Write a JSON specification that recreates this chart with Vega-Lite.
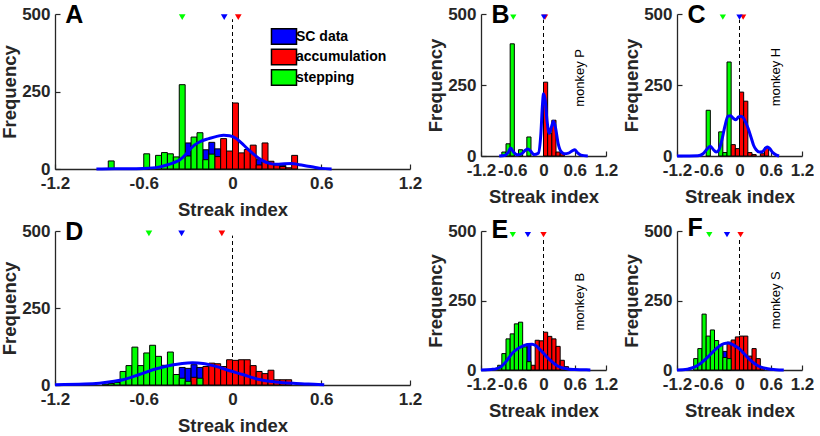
{
  "$schema": "https://vega.github.io/schema/vega-lite/v6.json",
  "padding": {"left": 0, "top": 2, "right": 0, "bottom": 0},
  "background": "white",
  "config": {
    "view": {"stroke": null},
    "font": "Liberation Sans",
    "axis": {
      "labelFont": "Liberation Sans", "labelFontSize": 17, "labelFontWeight": "bold", "labelColor": "#262626",
      "titleFont": "Liberation Sans", "titleFontSize": 18.5, "titleFontWeight": "bold", "titleColor": "#262626",
      "domainColor": "#262626", "domainWidth": 1.3, "tickColor": "#262626", "tickWidth": 1.2, "tickSize": -5,
      "grid": false, "labelFlush": false, "labelOverlap": false, "labelBound": false
    },
    "axisX": {"labelPadding": 11, "titlePadding": 9},
    "axisY": {"labelPadding": 10, "titlePadding": 2}
  },
  "datasets": {
    "bA": [
      {"lo": -0.32, "hi": -0.28, "n": 84, "s": "SC data"},
      {"lo": -0.20, "hi": -0.16, "n": 62, "s": "SC data"},
      {"lo": -0.16, "hi": -0.12, "n": 86, "s": "SC data"},
      {"lo": -0.12, "hi": -0.08, "n": 65, "s": "SC data"},
      {"lo": 0.16, "hi": 0.20, "n": 30, "s": "SC data"},
      {"lo": 0.32, "hi": 0.36, "n": 12, "s": "SC data"},
      {"lo": -0.12, "hi": -0.08, "n": 40, "s": "accumulation"},
      {"lo": -0.08, "hi": -0.04, "n": 98, "s": "accumulation"},
      {"lo": -0.04, "hi": 0.0, "n": 58, "s": "accumulation"},
      {"lo": 0.0, "hi": 0.04, "n": 213, "s": "accumulation"},
      {"lo": 0.04, "hi": 0.08, "n": 52, "s": "accumulation"},
      {"lo": 0.08, "hi": 0.12, "n": 63, "s": "accumulation"},
      {"lo": 0.12, "hi": 0.16, "n": 77, "s": "accumulation"},
      {"lo": 0.16, "hi": 0.20, "n": 13, "s": "accumulation"},
      {"lo": 0.20, "hi": 0.24, "n": 84, "s": "accumulation"},
      {"lo": 0.24, "hi": 0.28, "n": 25, "s": "accumulation"},
      {"lo": 0.28, "hi": 0.32, "n": 13, "s": "accumulation"},
      {"lo": 0.32, "hi": 0.36, "n": 8, "s": "accumulation"},
      {"lo": 0.36, "hi": 0.40, "n": 4, "s": "accumulation"},
      {"lo": 0.40, "hi": 0.44, "n": 44, "s": "accumulation"},
      {"lo": -0.84, "hi": -0.80, "n": 26, "s": "stepping"},
      {"lo": -0.60, "hi": -0.56, "n": 49, "s": "stepping"},
      {"lo": -0.52, "hi": -0.48, "n": 44, "s": "stepping"},
      {"lo": -0.48, "hi": -0.44, "n": 53, "s": "stepping"},
      {"lo": -0.44, "hi": -0.40, "n": 49, "s": "stepping"},
      {"lo": -0.40, "hi": -0.36, "n": 39, "s": "stepping"},
      {"lo": -0.36, "hi": -0.32, "n": 272, "s": "stepping"},
      {"lo": -0.32, "hi": -0.28, "n": 42, "s": "stepping"},
      {"lo": -0.28, "hi": -0.24, "n": 103, "s": "stepping"},
      {"lo": -0.24, "hi": -0.20, "n": 117, "s": "stepping"},
      {"lo": -0.20, "hi": -0.16, "n": 30, "s": "stepping"},
      {"lo": -0.16, "hi": -0.12, "n": 48, "s": "stepping"}
    ],
    "lA": [
      {"x": -0.92, "y": 0}, {"x": -0.8, "y": 1}, {"x": -0.7, "y": 1}, {"x": -0.6, "y": 2}, {"x": -0.5, "y": 6},
      {"x": -0.45, "y": 12}, {"x": -0.4, "y": 20}, {"x": -0.36, "y": 28}, {"x": -0.32, "y": 45}, {"x": -0.29, "y": 62},
      {"x": -0.26, "y": 76}, {"x": -0.22, "y": 88}, {"x": -0.16, "y": 98}, {"x": -0.1, "y": 106}, {"x": -0.06, "y": 109},
      {"x": -0.02, "y": 107}, {"x": 0.02, "y": 100}, {"x": 0.06, "y": 84}, {"x": 0.1, "y": 66}, {"x": 0.14, "y": 49},
      {"x": 0.2, "y": 28}, {"x": 0.25, "y": 18}, {"x": 0.3, "y": 15}, {"x": 0.35, "y": 17}, {"x": 0.4, "y": 18},
      {"x": 0.45, "y": 14}, {"x": 0.5, "y": 10}, {"x": 0.56, "y": 5}, {"x": 0.6, "y": 2}, {"x": 0.67, "y": 0}
    ],
    "tA": [
      {"x": -0.34, "s": "stepping"}, {"x": 0.039, "s": "accumulation"}, {"x": -0.056, "s": "SC data"}
    ],
    "bB": [
      {"lo": -0.80, "hi": -0.72, "n": 14, "s": "stepping"},
      {"lo": -0.72, "hi": -0.64, "n": 43, "s": "stepping"},
      {"lo": -0.64, "hi": -0.56, "n": 395, "s": "stepping"},
      {"lo": -0.48, "hi": -0.40, "n": 22, "s": "stepping"},
      {"lo": -0.32, "hi": -0.24, "n": 67, "s": "stepping"},
      {"lo": 0.0, "hi": 0.08, "n": 260, "s": "accumulation"},
      {"lo": 0.08, "hi": 0.16, "n": 79, "s": "accumulation"},
      {"lo": 0.16, "hi": 0.24, "n": 126, "s": "accumulation"},
      {"lo": 0.24, "hi": 0.32, "n": 14, "s": "accumulation"},
      {"lo": 0.32, "hi": 0.40, "n": 10, "s": "accumulation"}
    ],
    "lB": [
      {"x": -0.85, "y": 0}, {"x": -0.75, "y": 2}, {"x": -0.68, "y": 12}, {"x": -0.63, "y": 28}, {"x": -0.58, "y": 15},
      {"x": -0.5, "y": 4}, {"x": -0.42, "y": 8}, {"x": -0.35, "y": 20}, {"x": -0.3, "y": 25}, {"x": -0.25, "y": 18},
      {"x": -0.18, "y": 5}, {"x": -0.1, "y": 10}, {"x": -0.05, "y": 80}, {"x": -0.02, "y": 180}, {"x": 0.0, "y": 219},
      {"x": 0.03, "y": 200}, {"x": 0.07, "y": 120}, {"x": 0.11, "y": 80}, {"x": 0.15, "y": 100}, {"x": 0.19, "y": 122},
      {"x": 0.23, "y": 100}, {"x": 0.28, "y": 45}, {"x": 0.34, "y": 15}, {"x": 0.4, "y": 8}, {"x": 0.48, "y": 10},
      {"x": 0.55, "y": 18}, {"x": 0.6, "y": 22}, {"x": 0.65, "y": 12}, {"x": 0.72, "y": 3}, {"x": 0.85, "y": 0}
    ],
    "tB": [
      {"x": -0.58, "s": "stepping"}, {"x": 0.03, "s": "accumulation"}, {"x": 0.01, "s": "SC data"}
    ],
    "bC": [
      {"lo": -0.64, "hi": -0.56, "n": 161, "s": "stepping"},
      {"lo": -0.40, "hi": -0.32, "n": 85, "s": "stepping"},
      {"lo": -0.32, "hi": -0.24, "n": 12, "s": "stepping"},
      {"lo": -0.24, "hi": -0.16, "n": 331, "s": "stepping"},
      {"lo": -0.16, "hi": -0.08, "n": 40, "s": "accumulation"},
      {"lo": -0.08, "hi": 0.0, "n": 26, "s": "accumulation"},
      {"lo": 0.0, "hi": 0.08, "n": 225, "s": "accumulation"},
      {"lo": 0.08, "hi": 0.16, "n": 193, "s": "accumulation"},
      {"lo": 0.16, "hi": 0.24, "n": 12, "s": "accumulation"},
      {"lo": 0.24, "hi": 0.32, "n": 5, "s": "accumulation"},
      {"lo": 0.40, "hi": 0.48, "n": 8, "s": "accumulation"},
      {"lo": 0.48, "hi": 0.56, "n": 30, "s": "accumulation"}
    ],
    "lC": [
      {"x": -1.2, "y": 0}, {"x": -0.8, "y": 1}, {"x": -0.7, "y": 8}, {"x": -0.62, "y": 25}, {"x": -0.56, "y": 34},
      {"x": -0.5, "y": 22}, {"x": -0.45, "y": 14}, {"x": -0.4, "y": 20}, {"x": -0.34, "y": 55}, {"x": -0.28, "y": 105},
      {"x": -0.22, "y": 140}, {"x": -0.17, "y": 142}, {"x": -0.12, "y": 133}, {"x": -0.07, "y": 128}, {"x": -0.02, "y": 137},
      {"x": 0.03, "y": 140}, {"x": 0.08, "y": 133}, {"x": 0.12, "y": 118}, {"x": 0.17, "y": 95}, {"x": 0.22, "y": 67},
      {"x": 0.27, "y": 38}, {"x": 0.32, "y": 22}, {"x": 0.38, "y": 14}, {"x": 0.44, "y": 15}, {"x": 0.5, "y": 28},
      {"x": 0.54, "y": 32}, {"x": 0.58, "y": 26}, {"x": 0.64, "y": 12}, {"x": 0.7, "y": 4}, {"x": 0.76, "y": 0}
    ],
    "tC": [
      {"x": -0.32, "s": "stepping"}, {"x": 0.07, "s": "accumulation"}, {"x": 0.0, "s": "SC data"}
    ],
    "bD": [
      {"lo": -0.36, "hi": -0.32, "n": 57, "s": "SC data"},
      {"lo": -0.32, "hi": -0.28, "n": 54, "s": "SC data"},
      {"lo": -0.28, "hi": -0.24, "n": 66, "s": "SC data"},
      {"lo": -0.24, "hi": -0.20, "n": 57, "s": "SC data"},
      {"lo": -0.28, "hi": -0.24, "n": 25, "s": "accumulation"},
      {"lo": -0.20, "hi": -0.16, "n": 60, "s": "accumulation"},
      {"lo": -0.16, "hi": -0.12, "n": 71, "s": "accumulation"},
      {"lo": -0.12, "hi": -0.08, "n": 69, "s": "accumulation"},
      {"lo": -0.08, "hi": -0.04, "n": 60, "s": "accumulation"},
      {"lo": -0.04, "hi": 0.0, "n": 82, "s": "accumulation"},
      {"lo": 0.0, "hi": 0.04, "n": 80, "s": "accumulation"},
      {"lo": 0.04, "hi": 0.08, "n": 82, "s": "accumulation"},
      {"lo": 0.08, "hi": 0.12, "n": 82, "s": "accumulation"},
      {"lo": 0.12, "hi": 0.16, "n": 63, "s": "accumulation"},
      {"lo": 0.16, "hi": 0.20, "n": 44, "s": "accumulation"},
      {"lo": 0.20, "hi": 0.24, "n": 37, "s": "accumulation"},
      {"lo": 0.24, "hi": 0.28, "n": 48, "s": "accumulation"},
      {"lo": 0.28, "hi": 0.32, "n": 17, "s": "accumulation"},
      {"lo": 0.32, "hi": 0.36, "n": 17, "s": "accumulation"},
      {"lo": 0.36, "hi": 0.40, "n": 17, "s": "accumulation"},
      {"lo": -0.88, "hi": -0.84, "n": 3, "s": "stepping"},
      {"lo": -0.84, "hi": -0.80, "n": 5, "s": "stepping"},
      {"lo": -0.80, "hi": -0.76, "n": 8, "s": "stepping"},
      {"lo": -0.76, "hi": -0.72, "n": 44, "s": "stepping"},
      {"lo": -0.72, "hi": -0.68, "n": 63, "s": "stepping"},
      {"lo": -0.68, "hi": -0.64, "n": 123, "s": "stepping"},
      {"lo": -0.64, "hi": -0.60, "n": 63, "s": "stepping"},
      {"lo": -0.60, "hi": -0.56, "n": 104, "s": "stepping"},
      {"lo": -0.56, "hi": -0.52, "n": 129, "s": "stepping"},
      {"lo": -0.52, "hi": -0.48, "n": 93, "s": "stepping"},
      {"lo": -0.48, "hi": -0.44, "n": 64, "s": "stepping"},
      {"lo": -0.44, "hi": -0.40, "n": 107, "s": "stepping"},
      {"lo": -0.40, "hi": -0.36, "n": 34, "s": "stepping"},
      {"lo": -0.36, "hi": -0.32, "n": 22, "s": "stepping"},
      {"lo": -0.32, "hi": -0.28, "n": 12, "s": "stepping"},
      {"lo": -0.24, "hi": -0.20, "n": 22, "s": "stepping"}
    ],
    "lD": [
      {"x": -1.2, "y": 1}, {"x": -1.0, "y": 3}, {"x": -0.9, "y": 6}, {"x": -0.8, "y": 12}, {"x": -0.74, "y": 17},
      {"x": -0.63, "y": 34}, {"x": -0.52, "y": 52}, {"x": -0.41, "y": 65}, {"x": -0.34, "y": 70}, {"x": -0.27, "y": 72},
      {"x": -0.2, "y": 70}, {"x": -0.16, "y": 66}, {"x": -0.1, "y": 59}, {"x": -0.05, "y": 51}, {"x": 0.07, "y": 34},
      {"x": 0.18, "y": 18}, {"x": 0.29, "y": 10}, {"x": 0.43, "y": 5}, {"x": 0.58, "y": 2}, {"x": 0.62, "y": 1}
    ],
    "tD": [
      {"x": -0.565, "s": "stepping"}, {"x": -0.072, "s": "accumulation"}, {"x": -0.344, "s": "SC data"}
    ],
    "bE": [
      {"lo": -0.32, "hi": -0.24, "n": 95, "s": "SC data"},
      {"lo": -0.24, "hi": -0.16, "n": 17, "s": "accumulation"},
      {"lo": -0.16, "hi": -0.08, "n": 107, "s": "accumulation"},
      {"lo": -0.08, "hi": 0.0, "n": 105, "s": "accumulation"},
      {"lo": 0.0, "hi": 0.08, "n": 136, "s": "accumulation"},
      {"lo": 0.08, "hi": 0.16, "n": 121, "s": "accumulation"},
      {"lo": 0.16, "hi": 0.24, "n": 112, "s": "accumulation"},
      {"lo": 0.24, "hi": 0.32, "n": 85, "s": "accumulation"},
      {"lo": 0.32, "hi": 0.40, "n": 35, "s": "accumulation"},
      {"lo": 0.40, "hi": 0.48, "n": 12, "s": "accumulation"},
      {"lo": 0.48, "hi": 0.56, "n": 5, "s": "accumulation"},
      {"lo": -0.88, "hi": -0.80, "n": 17, "s": "stepping"},
      {"lo": -0.80, "hi": -0.72, "n": 59, "s": "stepping"},
      {"lo": -0.72, "hi": -0.64, "n": 112, "s": "stepping"},
      {"lo": -0.64, "hi": -0.56, "n": 130, "s": "stepping"},
      {"lo": -0.56, "hi": -0.48, "n": 166, "s": "stepping"},
      {"lo": -0.48, "hi": -0.40, "n": 172, "s": "stepping"},
      {"lo": -0.40, "hi": -0.32, "n": 83, "s": "stepping"},
      {"lo": -0.32, "hi": -0.24, "n": 30, "s": "stepping"}
    ],
    "lE": [
      {"x": -1.2, "y": 0}, {"x": -1.0, "y": 2}, {"x": -0.9, "y": 5}, {"x": -0.8, "y": 14}, {"x": -0.7, "y": 35},
      {"x": -0.6, "y": 60}, {"x": -0.5, "y": 76}, {"x": -0.4, "y": 86}, {"x": -0.3, "y": 92}, {"x": -0.22, "y": 93},
      {"x": -0.15, "y": 88}, {"x": -0.08, "y": 76}, {"x": 0.0, "y": 60}, {"x": 0.08, "y": 44}, {"x": 0.16, "y": 30},
      {"x": 0.24, "y": 18}, {"x": 0.32, "y": 10}, {"x": 0.4, "y": 6}, {"x": 0.5, "y": 3}, {"x": 0.6, "y": 2},
      {"x": 0.75, "y": 1}, {"x": 0.9, "y": 0}
    ],
    "tE": [
      {"x": -0.59, "s": "stepping"}, {"x": 0.0, "s": "accumulation"}, {"x": -0.30, "s": "SC data"}
    ],
    "bF": [
      {"lo": -0.32, "hi": -0.24, "n": 67, "s": "SC data"},
      {"lo": -0.24, "hi": -0.16, "n": 100, "s": "accumulation"},
      {"lo": -0.16, "hi": -0.08, "n": 108, "s": "accumulation"},
      {"lo": -0.08, "hi": 0.0, "n": 119, "s": "accumulation"},
      {"lo": 0.0, "hi": 0.08, "n": 122, "s": "accumulation"},
      {"lo": 0.08, "hi": 0.16, "n": 122, "s": "accumulation"},
      {"lo": 0.16, "hi": 0.24, "n": 50, "s": "accumulation"},
      {"lo": 0.24, "hi": 0.32, "n": 77, "s": "accumulation"},
      {"lo": 0.32, "hi": 0.40, "n": 41, "s": "accumulation"},
      {"lo": 0.40, "hi": 0.48, "n": 10, "s": "accumulation"},
      {"lo": -0.88, "hi": -0.80, "n": 41, "s": "stepping"},
      {"lo": -0.80, "hi": -0.72, "n": 77, "s": "stepping"},
      {"lo": -0.72, "hi": -0.64, "n": 201, "s": "stepping"},
      {"lo": -0.64, "hi": -0.56, "n": 122, "s": "stepping"},
      {"lo": -0.56, "hi": -0.48, "n": 144, "s": "stepping"},
      {"lo": -0.48, "hi": -0.40, "n": 106, "s": "stepping"},
      {"lo": -0.40, "hi": -0.32, "n": 89, "s": "stepping"},
      {"lo": -0.32, "hi": -0.24, "n": 45, "s": "stepping"},
      {"lo": -0.24, "hi": -0.16, "n": 41, "s": "stepping"}
    ],
    "lF": [
      {"x": -1.2, "y": 0}, {"x": -1.0, "y": 3}, {"x": -0.9, "y": 8}, {"x": -0.8, "y": 17}, {"x": -0.7, "y": 31},
      {"x": -0.6, "y": 48}, {"x": -0.5, "y": 67}, {"x": -0.4, "y": 84}, {"x": -0.3, "y": 95}, {"x": -0.22, "y": 97},
      {"x": -0.15, "y": 93}, {"x": -0.08, "y": 86}, {"x": 0.0, "y": 76}, {"x": 0.08, "y": 60}, {"x": 0.16, "y": 44},
      {"x": 0.24, "y": 30}, {"x": 0.32, "y": 19}, {"x": 0.4, "y": 11}, {"x": 0.5, "y": 6}, {"x": 0.6, "y": 3},
      {"x": 0.7, "y": 1}, {"x": 0.85, "y": 0}
    ],
    "tF": [
      {"x": -0.58, "s": "stepping"}, {"x": 0.02, "s": "accumulation"}, {"x": -0.24, "s": "SC data"}
    ]
  },
  "bounds": "flush",
  "spacing": 217,
  "resolve": {"scale": {"color": "independent"}, "legend": {"color": "independent"}},
  "vconcat": [
    {
      "bounds": "flush",
      "spacing": 71,
      "resolve": {"scale": {"color": "independent"}, "legend": {"color": "independent"}},
      "hconcat": [
        {
          "width": 355, "height": 155,
          "layer": [
            {"data": {"values": [{}]}, "mark": {"type": "rule", "strokeDash": [4, 3], "color": "black", "strokeWidth": 1},
             "encoding": {
               "x": {"datum": 0, "type": "quantitative", "scale": {"domain": [-1.2, 1.2], "nice": false}, "axis": {"values": [-1.2, -0.6, 0, 0.6, 1.2], "tickCount": 5, "title": "Streak index", "labelOverlap": false, "labelExpr": "replace(format(datum.value,'~g'),'\u2212','-')"}},
               "y": {"datum": 0, "type": "quantitative", "scale": {"domain": [0, 500], "nice": false}, "axis": {"values": [0, 250, 500], "tickCount": 3, "title": "Frequency", "labelOverlap": false}},
               "y2": {"datum": 483}}},
            {"data": {"name": "bA"}, "mark": {"type": "bar", "stroke": "black", "strokeWidth": 1, "opacity": 1},
             "encoding": {
               "x": {"field": "lo", "type": "quantitative"}, "x2": {"field": "hi"},
               "y": {"field": "n", "type": "quantitative", "stack": null}, "y2": {"datum": 0},
               "color": {"field": "s", "type": "nominal", "scale": {"domain": ["SC data", "accumulation", "stepping"], "range": ["#0000FF", "#FF0000", "#00FF00"]},
                 "legend": {"orient": "none", "legendX": 221, "legendY": 14.5, "title": null, "symbolType": "M-1.77,-1.1H1.77V1.1H-1.77Z", "symbolSize": 200, "symbolStrokeColor": "black", "symbolStrokeWidth": 1.5, "symbolOpacity": 1, "labelFontSize": 14, "labelFontWeight": "bold", "labelColor": "black", "labelFont": "Liberation Sans", "labelOffset": 4, "rowPadding": -1.5, "padding": 0}}}},
            {"data": {"name": "lA"}, "mark": {"type": "line", "color": "#0000FF", "strokeWidth": 3, "interpolate": "monotone"},
             "encoding": {"x": {"field": "x", "type": "quantitative"}, "y": {"field": "y", "type": "quantitative"}}},
            {"data": {"name": "tA"}, "mark": {"type": "point", "shape": "triangle-down", "filled": true, "size": 45, "opacity": 1},
             "encoding": {"x": {"field": "x", "type": "quantitative"}, "y": {"datum": 490, "type": "quantitative"},
               "color": {"field": "s", "type": "nominal", "scale": {"domain": ["SC data", "accumulation", "stepping"], "range": ["#0000FF", "#FF0000", "#00FF00"]}, "legend": null}}},
            {"data": {"values": [{}]}, "mark": {"type": "text", "text": "A", "fontSize": 25, "fontWeight": "bold", "font": "Liberation Sans", "align": "left", "baseline": "alphabetic", "color": "black"},
             "encoding": {"x": {"datum": -1.13, "type": "quantitative"}, "y": {"datum": 472, "type": "quantitative"}}}
          ]
        },
        {
          "width": 125, "height": 142,
          "layer": [
            {"data": {"values": [{}]}, "mark": {"type": "rule", "strokeDash": [4, 3], "color": "black", "strokeWidth": 1},
             "encoding": {
               "x": {"datum": 0, "type": "quantitative", "scale": {"domain": [-1.2, 1.2], "nice": false}, "axis": {"values": [-1.2, -0.6, 0, 0.6, 1.2], "tickCount": 5, "title": "Streak index", "labelOverlap": false, "labelExpr": "replace(format(datum.value,'~g'),'\u2212','-')"}},
               "y": {"datum": 0, "type": "quantitative", "scale": {"domain": [0, 500], "nice": false}, "axis": {"values": [0, 250, 500], "tickCount": 3, "title": "Frequency", "labelOverlap": false}},
               "y2": {"datum": 480}}},
            {"data": {"name": "bB"}, "mark": {"type": "bar", "stroke": "black", "strokeWidth": 1, "opacity": 1},
             "encoding": {
               "x": {"field": "lo", "type": "quantitative"}, "x2": {"field": "hi"},
               "y": {"field": "n", "type": "quantitative", "stack": null}, "y2": {"datum": 0},
               "color": {"field": "s", "type": "nominal", "scale": {"domain": ["SC data", "accumulation", "stepping"], "range": ["#0000FF", "#FF0000", "#00FF00"]}, "legend": null}}},
            {"data": {"name": "lB"}, "mark": {"type": "line", "color": "#0000FF", "strokeWidth": 3, "interpolate": "monotone"},
             "encoding": {"x": {"field": "x", "type": "quantitative"}, "y": {"field": "y", "type": "quantitative"}}},
            {"data": {"name": "tB"}, "mark": {"type": "point", "shape": "triangle-down", "filled": true, "size": 40, "opacity": 1},
             "encoding": {"x": {"field": "x", "type": "quantitative"}, "y": {"datum": 489, "type": "quantitative"},
               "color": {"field": "s", "type": "nominal", "scale": {"domain": ["SC data", "accumulation", "stepping"], "range": ["#0000FF", "#FF0000", "#00FF00"]}, "legend": null}}},
            {"data": {"values": [{}]}, "mark": {"type": "text", "text": "B", "fontSize": 25, "fontWeight": "bold", "font": "Liberation Sans", "align": "left", "baseline": "alphabetic", "color": "black"},
             "encoding": {"x": {"datum": -1.0, "type": "quantitative"}, "y": {"datum": 470, "type": "quantitative"}}},
            {"data": {"values": [{}]}, "mark": {"type": "text", "text": "monkey P", "fontSize": 13, "font": "Liberation Sans", "angle": 270, "align": "center", "baseline": "middle", "color": "black"},
             "encoding": {"x": {"datum": 0.71, "type": "quantitative"}, "y": {"datum": 275, "type": "quantitative"}}}
          ]
        },
        {
          "width": 125, "height": 142,
          "layer": [
            {"data": {"values": [{}]}, "mark": {"type": "rule", "strokeDash": [4, 3], "color": "black", "strokeWidth": 1},
             "encoding": {
               "x": {"datum": 0, "type": "quantitative", "scale": {"domain": [-1.2, 1.2], "nice": false}, "axis": {"values": [-1.2, -0.6, 0, 0.6, 1.2], "tickCount": 5, "title": "Streak index", "labelOverlap": false, "labelExpr": "replace(format(datum.value,'~g'),'\u2212','-')"}},
               "y": {"datum": 0, "type": "quantitative", "scale": {"domain": [0, 500], "nice": false}, "axis": {"values": [0, 250, 500], "tickCount": 3, "title": "Frequency", "labelOverlap": false}},
               "y2": {"datum": 480}}},
            {"data": {"name": "bC"}, "mark": {"type": "bar", "stroke": "black", "strokeWidth": 1, "opacity": 1},
             "encoding": {
               "x": {"field": "lo", "type": "quantitative"}, "x2": {"field": "hi"},
               "y": {"field": "n", "type": "quantitative", "stack": null}, "y2": {"datum": 0},
               "color": {"field": "s", "type": "nominal", "scale": {"domain": ["SC data", "accumulation", "stepping"], "range": ["#0000FF", "#FF0000", "#00FF00"]}, "legend": null}}},
            {"data": {"name": "lC"}, "mark": {"type": "line", "color": "#0000FF", "strokeWidth": 3, "interpolate": "monotone"},
             "encoding": {"x": {"field": "x", "type": "quantitative"}, "y": {"field": "y", "type": "quantitative"}}},
            {"data": {"name": "tC"}, "mark": {"type": "point", "shape": "triangle-down", "filled": true, "size": 40, "opacity": 1},
             "encoding": {"x": {"field": "x", "type": "quantitative"}, "y": {"datum": 489, "type": "quantitative"},
               "color": {"field": "s", "type": "nominal", "scale": {"domain": ["SC data", "accumulation", "stepping"], "range": ["#0000FF", "#FF0000", "#00FF00"]}, "legend": null}}},
            {"data": {"values": [{}]}, "mark": {"type": "text", "text": "C", "fontSize": 25, "fontWeight": "bold", "font": "Liberation Sans", "align": "left", "baseline": "alphabetic", "color": "black"},
             "encoding": {"x": {"datum": -1.0, "type": "quantitative"}, "y": {"datum": 470, "type": "quantitative"}}},
            {"data": {"values": [{}]}, "mark": {"type": "text", "text": "monkey H", "fontSize": 13, "font": "Liberation Sans", "angle": 270, "align": "center", "baseline": "middle", "color": "black"},
             "encoding": {"x": {"datum": 0.70, "type": "quantitative"}, "y": {"datum": 278, "type": "quantitative"}}}
          ]
        }
      ]
    },
    {
      "bounds": "flush",
      "spacing": 71,
      "resolve": {"scale": {"color": "independent"}, "legend": {"color": "independent"}},
      "hconcat": [
        {
          "width": 355, "height": 154,
          "layer": [
            {"data": {"values": [{}]}, "mark": {"type": "rule", "strokeDash": [4, 3], "color": "black", "strokeWidth": 1},
             "encoding": {
               "x": {"datum": 0, "type": "quantitative", "scale": {"domain": [-1.2, 1.2], "nice": false}, "axis": {"values": [-1.2, -0.6, 0, 0.6, 1.2], "tickCount": 5, "title": "Streak index", "labelOverlap": false, "labelExpr": "replace(format(datum.value,'~g'),'\u2212','-')"}},
               "y": {"datum": 0, "type": "quantitative", "scale": {"domain": [0, 500], "nice": false}, "axis": {"values": [0, 250, 500], "tickCount": 3, "title": "Frequency", "labelOverlap": false}},
               "y2": {"datum": 485}}},
            {"data": {"name": "bD"}, "mark": {"type": "bar", "stroke": "black", "strokeWidth": 1, "opacity": 1},
             "encoding": {
               "x": {"field": "lo", "type": "quantitative"}, "x2": {"field": "hi"},
               "y": {"field": "n", "type": "quantitative", "stack": null}, "y2": {"datum": 0},
               "color": {"field": "s", "type": "nominal", "scale": {"domain": ["SC data", "accumulation", "stepping"], "range": ["#0000FF", "#FF0000", "#00FF00"]}, "legend": null}}},
            {"data": {"name": "lD"}, "mark": {"type": "line", "color": "#0000FF", "strokeWidth": 3, "interpolate": "monotone"},
             "encoding": {"x": {"field": "x", "type": "quantitative"}, "y": {"field": "y", "type": "quantitative"}}},
            {"data": {"name": "tD"}, "mark": {"type": "point", "shape": "triangle-down", "filled": true, "size": 45, "opacity": 1},
             "encoding": {"x": {"field": "x", "type": "quantitative"}, "y": {"datum": 492, "type": "quantitative"},
               "color": {"field": "s", "type": "nominal", "scale": {"domain": ["SC data", "accumulation", "stepping"], "range": ["#0000FF", "#FF0000", "#00FF00"]}, "legend": null}}},
            {"data": {"values": [{}]}, "mark": {"type": "text", "text": "D", "fontSize": 25, "fontWeight": "bold", "font": "Liberation Sans", "align": "left", "baseline": "alphabetic", "color": "black"},
             "encoding": {"x": {"datum": -1.13, "type": "quantitative"}, "y": {"datum": 472, "type": "quantitative"}}}
          ]
        },
        {
          "width": 125, "height": 139,
          "layer": [
            {"data": {"values": [{}]}, "mark": {"type": "rule", "strokeDash": [4, 3], "color": "black", "strokeWidth": 1},
             "encoding": {
               "x": {"datum": 0, "type": "quantitative", "scale": {"domain": [-1.2, 1.2], "nice": false}, "axis": {"values": [-1.2, -0.6, 0, 0.6, 1.2], "tickCount": 5, "title": "Streak index", "labelOverlap": false, "labelExpr": "replace(format(datum.value,'~g'),'\u2212','-')"}},
               "y": {"datum": 0, "type": "quantitative", "scale": {"domain": [0, 500], "nice": false}, "axis": {"values": [0, 250, 500], "tickCount": 3, "title": "Frequency", "labelOverlap": false}},
               "y2": {"datum": 477}}},
            {"data": {"name": "bE"}, "mark": {"type": "bar", "stroke": "black", "strokeWidth": 1, "opacity": 1},
             "encoding": {
               "x": {"field": "lo", "type": "quantitative"}, "x2": {"field": "hi"},
               "y": {"field": "n", "type": "quantitative", "stack": null}, "y2": {"datum": 0},
               "color": {"field": "s", "type": "nominal", "scale": {"domain": ["SC data", "accumulation", "stepping"], "range": ["#0000FF", "#FF0000", "#00FF00"]}, "legend": null}}},
            {"data": {"name": "lE"}, "mark": {"type": "line", "color": "#0000FF", "strokeWidth": 3, "interpolate": "monotone"},
             "encoding": {"x": {"field": "x", "type": "quantitative"}, "y": {"field": "y", "type": "quantitative"}}},
            {"data": {"name": "tE"}, "mark": {"type": "point", "shape": "triangle-down", "filled": true, "size": 40, "opacity": 1},
             "encoding": {"x": {"field": "x", "type": "quantitative"}, "y": {"datum": 487, "type": "quantitative"},
               "color": {"field": "s", "type": "nominal", "scale": {"domain": ["SC data", "accumulation", "stepping"], "range": ["#0000FF", "#FF0000", "#00FF00"]}, "legend": null}}},
            {"data": {"values": [{}]}, "mark": {"type": "text", "text": "E", "fontSize": 25, "fontWeight": "bold", "font": "Liberation Sans", "align": "left", "baseline": "alphabetic", "color": "black"},
             "encoding": {"x": {"datum": -1.0, "type": "quantitative"}, "y": {"datum": 474, "type": "quantitative"}}},
            {"data": {"values": [{}]}, "mark": {"type": "text", "text": "monkey B", "fontSize": 13, "font": "Liberation Sans", "angle": 270, "align": "center", "baseline": "middle", "color": "black"},
             "encoding": {"x": {"datum": 0.71, "type": "quantitative"}, "y": {"datum": 246, "type": "quantitative"}}}
          ]
        },
        {
          "width": 125, "height": 139,
          "layer": [
            {"data": {"values": [{}]}, "mark": {"type": "rule", "strokeDash": [4, 3], "color": "black", "strokeWidth": 1},
             "encoding": {
               "x": {"datum": 0, "type": "quantitative", "scale": {"domain": [-1.2, 1.2], "nice": false}, "axis": {"values": [-1.2, -0.6, 0, 0.6, 1.2], "tickCount": 5, "title": "Streak index", "labelOverlap": false, "labelExpr": "replace(format(datum.value,'~g'),'\u2212','-')"}},
               "y": {"datum": 0, "type": "quantitative", "scale": {"domain": [0, 500], "nice": false}, "axis": {"values": [0, 250, 500], "tickCount": 3, "title": "Frequency", "labelOverlap": false}},
               "y2": {"datum": 477}}},
            {"data": {"name": "bF"}, "mark": {"type": "bar", "stroke": "black", "strokeWidth": 1, "opacity": 1},
             "encoding": {
               "x": {"field": "lo", "type": "quantitative"}, "x2": {"field": "hi"},
               "y": {"field": "n", "type": "quantitative", "stack": null}, "y2": {"datum": 0},
               "color": {"field": "s", "type": "nominal", "scale": {"domain": ["SC data", "accumulation", "stepping"], "range": ["#0000FF", "#FF0000", "#00FF00"]}, "legend": null}}},
            {"data": {"name": "lF"}, "mark": {"type": "line", "color": "#0000FF", "strokeWidth": 3, "interpolate": "monotone"},
             "encoding": {"x": {"field": "x", "type": "quantitative"}, "y": {"field": "y", "type": "quantitative"}}},
            {"data": {"name": "tF"}, "mark": {"type": "point", "shape": "triangle-down", "filled": true, "size": 40, "opacity": 1},
             "encoding": {"x": {"field": "x", "type": "quantitative"}, "y": {"datum": 487, "type": "quantitative"},
               "color": {"field": "s", "type": "nominal", "scale": {"domain": ["SC data", "accumulation", "stepping"], "range": ["#0000FF", "#FF0000", "#00FF00"]}, "legend": null}}},
            {"data": {"values": [{}]}, "mark": {"type": "text", "text": "F", "fontSize": 25, "fontWeight": "bold", "font": "Liberation Sans", "align": "left", "baseline": "alphabetic", "color": "black"},
             "encoding": {"x": {"datum": -1.0, "type": "quantitative"}, "y": {"datum": 482, "type": "quantitative"}}},
            {"data": {"values": [{}]}, "mark": {"type": "text", "text": "monkey S", "fontSize": 13, "font": "Liberation Sans", "angle": 270, "align": "center", "baseline": "middle", "color": "black"},
             "encoding": {"x": {"datum": 0.70, "type": "quantitative"}, "y": {"datum": 251, "type": "quantitative"}}}
          ]
        }
      ]
    }
  ]
}
